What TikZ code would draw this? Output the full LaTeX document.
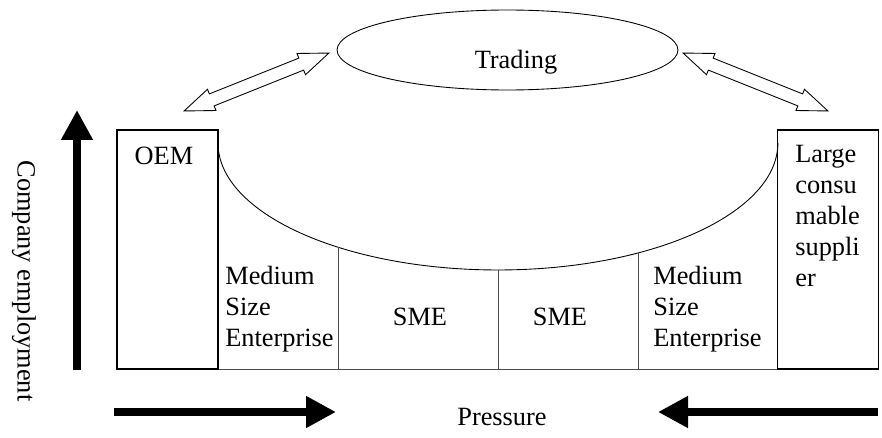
\documentclass[tikz,border=0pt]{standalone}
\usepackage{fontspec}
\setmainfont{Liberation Serif}
\usetikzlibrary{arrows.meta,shapes.geometric,shapes.arrows}

\tikzset{
  firm/.style={draw, line width=0.6pt, minimum width=2.02cm, minimum height=4.78cm, inner sep=0pt},
  tag/.style={inner sep=0pt, align=left, anchor=north west},
  push/.style={line width=0.16cm, -{Triangle[length=0.6cm,width=0.6cm]}},
  link/.style={double arrow, draw, line width=0.5pt, inner xsep=0pt, inner ysep=0.12cm,
    double arrow head extend=0.1cm, double arrow tip angle=42, minimum height=3.12cm},
  part/.style={draw=black!70, line width=0.5pt},
}

\begin{document}
\begin{tikzpicture}[x=0.02cm, y=0.02cm, font=\fontsize{15}{17.6}\selectfont]
  \useasboundingbox (0,0) rectangle (882,437);

  % firms at both ends
  \node[firm] at (167.5,187.5) (oem) {};
  \node at (164,281.5) (oemtxt) {OEM};
  \node[firm] at (828,187.5) (large) {};
  \node[tag] at (795,292) (largetxt) {Large\\consu\\mable\\suppli\\er};

  % trading ring
  \node[ellipse, draw, line width=0.5pt, minimum width=6.82cm, minimum height=1.6cm, inner sep=0pt] at (507.5,387) (trade) {};
  \node at (516,375) (tradetxt) {Trading};
  \node[link, rotate=21.8] at (256.5,355) (linkl) {};
  \node[link, rotate=-21.8] at (755.5,355) (linkr) {};

  % the bowl and the small firms under it
  \coordinate (bowll) at (218,294);
  \coordinate (bowlr) at (778,294);
  \draw[line width=0.5pt] (bowll) arc[start angle=180, end angle=360, x radius=5.6cm, y radius=2.54cm];
  \draw[part] (oem.south east) -- (large.south west);
  \draw[part] (338,68) -- (338,190);
  \draw[part] (498,68) -- (498,167);
  \draw[part] (638,68) -- (638,184);
  \node[tag] at (225,171) (medl) {Medium\\Size\\Enterprise};
  \node at (420,120) (smel) {SME};
  \node at (560,120) (smer) {SME};
  \node[tag] at (653,171) (medr) {Medium\\Size\\Enterprise};

  % axes
  \coordinate (upfoot) at (77,67);
  \coordinate (uptip) at (77,327);
  \draw[push] (upfoot) -- (uptip);
  \node[rotate=-90] at (24,156) (employ) {Company employment};

  \coordinate (pushl) at (114,25);
  \coordinate (pushlend) at (336,25);
  \coordinate (pushr) at (878,25);
  \coordinate (pushrend) at (658,25);
  \draw[push] (pushl) -- (pushlend);
  \draw[push] (pushr) -- (pushrend);
  \node at (502,20) (press) {Pressure};

\end{tikzpicture}
\end{document}
